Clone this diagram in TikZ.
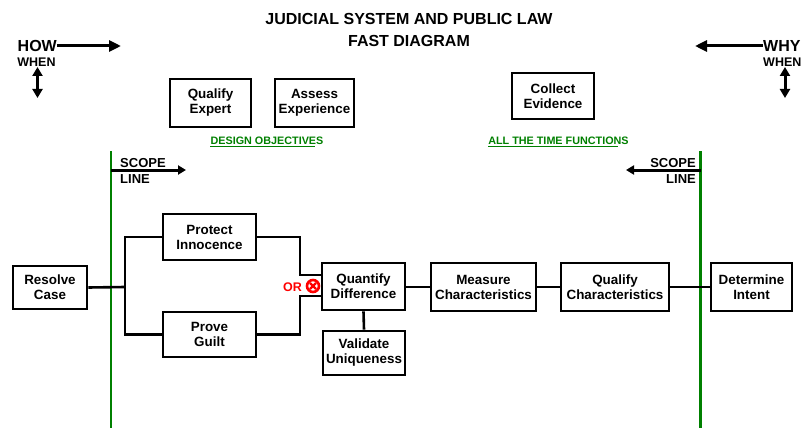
\documentclass[tikz,border=0pt]{standalone}
\usepackage{fontspec}
\setmainfont{Liberation Sans}
\usetikzlibrary{arrows.meta,calc}
\definecolor{scopegreen}{RGB}{0,128,0}
\definecolor{orred}{RGB}{255,0,0}
\tikzset{
  fbox/.style={draw, line width=2.8pt, align=center, inner sep=0pt,
    font=\fontsize{13.4}{15}\selectfont\bfseries},
  link/.style={line width=2.6pt},
  scopeline/.style={draw=scopegreen, line width=2.6pt},
  dirarrow/.style={line width=3pt, -{Triangle[length=12pt,width=11pt]}},
  scopearrow/.style={line width=3pt, -{Triangle[length=8pt,width=9pt]}},
  updown/.style={line width=3pt, {Triangle[length=9pt,width=10pt]}-{Triangle[length=9pt,width=10pt]}},
  greenlabel/.style={text=scopegreen, inner sep=0pt, font=\fontsize{10.8}{12}\selectfont\bfseries},
  bigword/.style={inner sep=0pt, font=\fontsize{16}{18}\selectfont\bfseries},
  smallword/.style={inner sep=0pt, font=\fontsize{12.5}{14}\selectfont\bfseries},
  scopeword/.style={inner sep=0pt, align=left, font=\fontsize{13}{16}\selectfont\bfseries}
}
\begin{document}
\begin{tikzpicture}[x=1pt,y=-1pt]
\useasboundingbox[fill=white] (0,0) rectangle (801,428);
% title
\node[align=center, inner sep=0pt, font=\fontsize{16}{21.5}\selectfont\bfseries] (title) at (409,30)
  {JUDICIAL SYSTEM AND PUBLIC LAW\\FAST DIAGRAM};
% how / why
\node[bigword, anchor=east] (how) at (57,46) {HOW};
\coordinate (howtip) at (121,46);
\draw[dirarrow] (how.east) -- (howtip);
\node[smallword] (whenl) at (36.5,62) {WHEN};
\coordinate (whenltop) at (37.5,67);
\coordinate (whenlbot) at (37.5,98);
\draw[updown] (whenltop) -- (whenlbot);
\node[bigword, anchor=west] (why) at (763,46) {WHY};
\coordinate (whytip) at (695,46);
\draw[dirarrow] (why.west) -- (whytip);
\node[smallword, anchor=west] (whenr) at (763,62) {WHEN};
\coordinate (whenrtop) at (785,67);
\coordinate (whenrbot) at (785,98);
\draw[updown] (whenrtop) -- (whenrbot);
% top boxes
\node[fbox, minimum width=81pt, minimum height=48pt] (expert) at (210.5,103) {Qualify\\Expert};
\node[fbox, minimum width=79pt, minimum height=48pt] (assess) at (314.5,103) {Assess\\Experience};
\node[fbox, minimum width=82pt, minimum height=46pt] (collect) at (553,96) {Collect\\Evidence};
\node[greenlabel] (designobj) at (267,141) {DESIGN OBJECTIVES};
\draw[scopegreen, line width=1.4pt] ([yshift=-1.5pt]designobj.south west) -- ([xshift=-9pt,yshift=-1.5pt]designobj.south east);
\node[greenlabel] (alltime) at (558.5,141) {ALL THE TIME FUNCTIONS};
\draw[scopegreen, line width=1.4pt] ([yshift=-1.5pt]alltime.south west) -- ([xshift=-11pt,yshift=-1.5pt]alltime.south east);
% scope lines
\coordinate (scopelt) at (111,151);
\coordinate (scopelb) at (111,428);
\coordinate (scopert) at (700.5,151);
\coordinate (scoperb) at (700.5,428);
\draw[scopeline] (scopelt) -- (scopelb);
\draw[scopeline] (scopert) -- (scoperb);
\coordinate (scopelarrow) at (111,170);
\coordinate (scopeltip) at (186,170);
\draw[scopearrow] (scopelarrow) -- (scopeltip);
\coordinate (scoperarrow) at (700.5,170);
\coordinate (scopertip) at (626,170);
\draw[scopearrow] (scoperarrow) -- (scopertip);
\node[scopeword, anchor=north west] (scopelw) at (120,158.5) {SCOPE\\LINE};
\node[scopeword, anchor=north east, align=right] (scoperw) at (696,158.5) {SCOPE\\LINE};
% function boxes
\node[fbox, minimum width=74pt, minimum height=43pt] (resolve) at (50,287.5) {Resolve\\Case};
\node[fbox, minimum width=93pt, minimum height=46pt] (protect) at (209.5,237) {Protect\\Innocence};
\node[fbox, minimum width=93pt, minimum height=45pt] (guilt) at (209.5,334.5) {Prove\\Guilt};
\node[fbox, minimum width=83pt, minimum height=47pt] (quantify) at (363.5,286.5) {Quantify\\Difference};
\node[fbox, minimum width=82pt, minimum height=44pt] (validate) at (364,353) {Validate\\Uniqueness};
\node[fbox, minimum width=105pt, minimum height=48pt] (measure) at (483.5,287) {Measure\\Characteristics};
\node[fbox, minimum width=108pt, minimum height=48pt] (qualchar) at (615,287) {Qualify\\Characteristics};
\node[fbox, minimum width=81pt, minimum height=48pt] (intent) at (751.5,287) {Determine\\Intent};
% connectors
\coordinate (split) at (125,287);
\coordinate (ortop) at (300,275);
\coordinate (orbot) at (300,296);
\draw[link] (resolve.east) -- (split);
\draw[link] (protect.west) -| (split) |- (guilt.west);
\draw[link] (protect.east) -| (ortop) -- (ortop -| quantify.west);
\draw[link] (guilt.east) -| (orbot) -- (orbot -| quantify.west);
\draw[link] (quantify.south) -- (validate.north);
\draw[link] (quantify.east |- measure.west) -- (measure.west);
\draw[link] (measure.east) -- (qualchar.west);
\draw[link] (qualchar.east) -- (intent.west);
% or symbol
\node[circle, draw=orred, line width=2.6pt, minimum size=12pt, inner sep=0pt] (orsym) at (313,286) {};
\draw[orred, line width=2.4pt] ($(orsym.center)!0.6!(orsym.north west)$) -- ($(orsym.center)!0.6!(orsym.south east)$);
\draw[orred, line width=2.4pt] ($(orsym.center)!0.6!(orsym.north east)$) -- ($(orsym.center)!0.6!(orsym.south west)$);
\node[text=orred, inner sep=0pt, font=\fontsize{12.5}{14}\selectfont\bfseries, anchor=east] (ortext) at (302,287) {OR};
\end{tikzpicture}
\end{document}
